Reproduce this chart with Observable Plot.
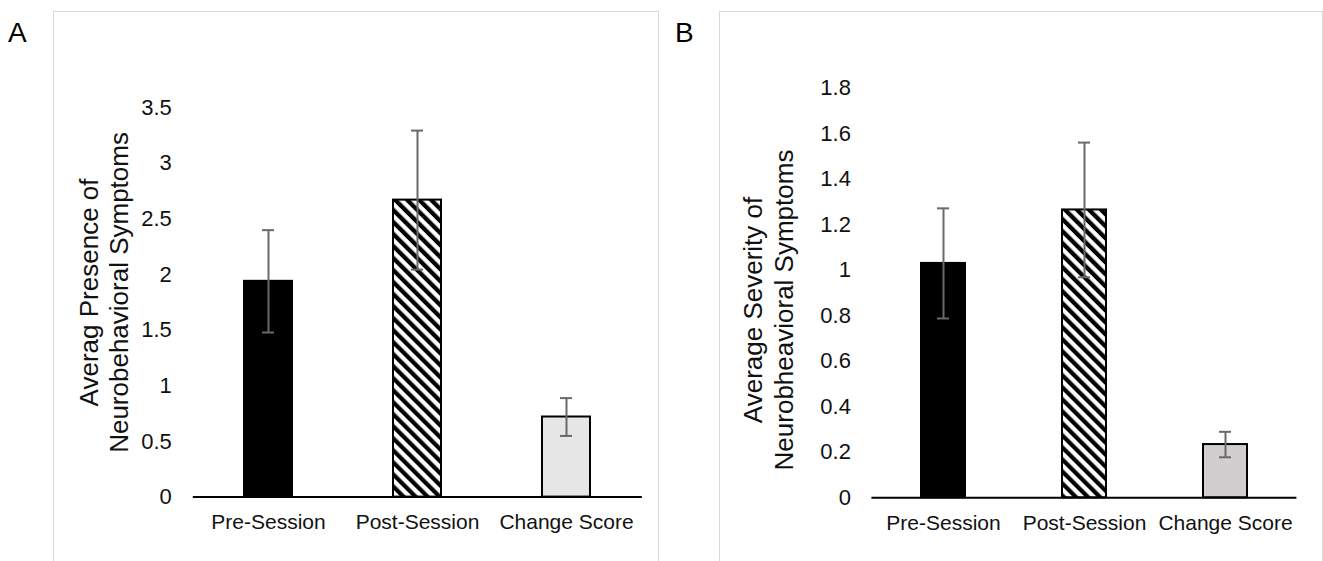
<!DOCTYPE html>
<html>
<head>
<meta charset="utf-8">
<script src="https://cdn.jsdelivr.net/npm/d3@7"></script>
<script src="https://cdn.jsdelivr.net/npm/@observablehq/plot@0.6"></script>
<style>
  html, body { margin: 0; padding: 0; background: #fff; }
  body { width: 1323px; height: 561px; overflow: hidden; position: relative; font-family: "Liberation Sans", Arial, sans-serif; }
  .frame { position: absolute; border: 1px solid #d9d9d9; box-sizing: border-box; }
  .letter { position: absolute; font-size: 28px; line-height: 28px; color: #000; }
  .panel { position: absolute; top: 0; }
  .panel svg { display: block; }
</style>
</head>
<body>
<div class="frame" style="left:53px; top:11px; width:606px; height:620px;"></div>
<div class="frame" style="left:719px; top:11px; width:604px; height:620px;"></div>
<div class="letter" style="left:8px; top:19px;">A</div>
<div class="letter" style="left:675px; top:19px;">B</div>
<div class="panel" id="panelA" style="left:0px;"></div>
<div class="panel" id="panelB" style="left:660px;"></div>
<script>
// ---- data ----
const categories = ["Pre-Session", "Post-Session", "Change Score"];
const presenceMean = [1.94, 2.67, 0.72];
const presenceErr = [0.46, 0.625, 0.17];
const severityMean = [1.03, 1.265, 0.234];
const severityErr = [0.242, 0.296, 0.056];
const yTicksA = [0, 0.5, 1, 1.5, 2, 2.5, 3, 3.5];
const yTicksB = [0, 0.2, 0.4, 0.6, 0.8, 1, 1.2, 1.4, 1.6, 1.8];
const titleA = ["Averag Presence of", "Neurobehavioral Symptoms"];
const titleB = ["Average Severity of", "Neurobheavioral Symptoms"];

const FONT = "Liberation Sans, Arial, sans-serif";
const ERR = "#696969";

function panel(cfg) {
  const data = categories.map((c, i) => ({
    cat: c, v: cfg.mean[i], lo: cfg.mean[i] - cfg.err[i], hi: cfg.mean[i] + cfg.err[i]
  }));
  const svg = Plot.plot({
    width: cfg.width,
    height: 561,
    marginLeft: cfg.ml, marginRight: cfg.mr, marginTop: cfg.mt, marginBottom: cfg.mb,
    style: { fontFamily: FONT, background: "transparent", color: "#111" },
    x: { domain: categories, paddingInner: cfg.pi, paddingOuter: cfg.pi / 2, align: 0.5, label: null },
    y: { domain: [0, cfg.ymax], label: null },
    color: { domain: categories, range: ["#000", `url(#${cfg.id})`, cfg.light] },
    marks: [
      Plot.barY(data, { x: "cat", y: "v", fill: "cat", stroke: "#000", strokeWidth: 2 }),
      Plot.ruleY([0], { stroke: "#000", strokeWidth: 2 }),
      Plot.ruleX(data, { x: "cat", y1: "lo", y2: "hi", stroke: ERR, strokeWidth: 2 }),
      Plot.tickY(data, { x: "cat", y: "lo", stroke: ERR, strokeWidth: 2, insetLeft: cfg.cap, insetRight: cfg.cap }),
      Plot.tickY(data, { x: "cat", y: "hi", stroke: ERR, strokeWidth: 2, insetLeft: cfg.cap, insetRight: cfg.cap }),
      Plot.axisY({ ticks: cfg.ticks, tickSize: 0, tickPadding: cfg.tp, fontSize: 22, tickFormat: d => String(d), label: null }),
      Plot.axisX({ tickSize: 0, tickPadding: 17, fontSize: 21, label: null }),
      Plot.text([cfg.title.join("\n")], {
        text: d => d, frameAnchor: "left", dx: cfg.tdx, dy: cfg.tdy, rotate: -90,
        fontSize: 26, lineHeight: cfg.lh, textAnchor: "middle", lineAnchor: "middle", fill: "#111"
      })
    ]
  });
  const defs = d3.select(svg).insert("defs", ":first-child");
  const pat = defs.append("pattern")
    .attr("id", cfg.id)
    .attr("patternUnits", "userSpaceOnUse")
    .attr("width", 8.5).attr("height", 8.5)
    .attr("patternTransform", "rotate(-45)");
  pat.append("rect").attr("width", 8.5).attr("height", 8.5).attr("fill", "#fff");
  pat.append("rect").attr("width", 4.25).attr("height", 8.5).attr("fill", "#000");
  return svg;
}

document.getElementById("panelA").append(panel({
  id: "hatchA", width: 660, ml: 192.8, mr: 18.2, mt: 107.3, mb: 64.4,
  pi: 0.68, ymax: 3.5, ticks: yTicksA, mean: presenceMean, err: presenceErr,
  light: "#e7e6e6", cap: 18, tp: 21.5, title: titleA, tdx: -89.7, tdy: -10, lh: 1.13
}));
document.getElementById("panelB").append(panel({
  id: "hatchB", width: 663, ml: 211.4, mr: 26.6, mt: 87.7, mb: 63.7,
  pi: 0.687, ymax: 1.8, ticks: yTicksB, mean: severityMean, err: severityErr,
  light: "#d0cece", cap: 16, tp: 21, title: titleB, tdx: -104.6, tdy: 17, lh: 1.22
}));
</script>
</body>
</html>
